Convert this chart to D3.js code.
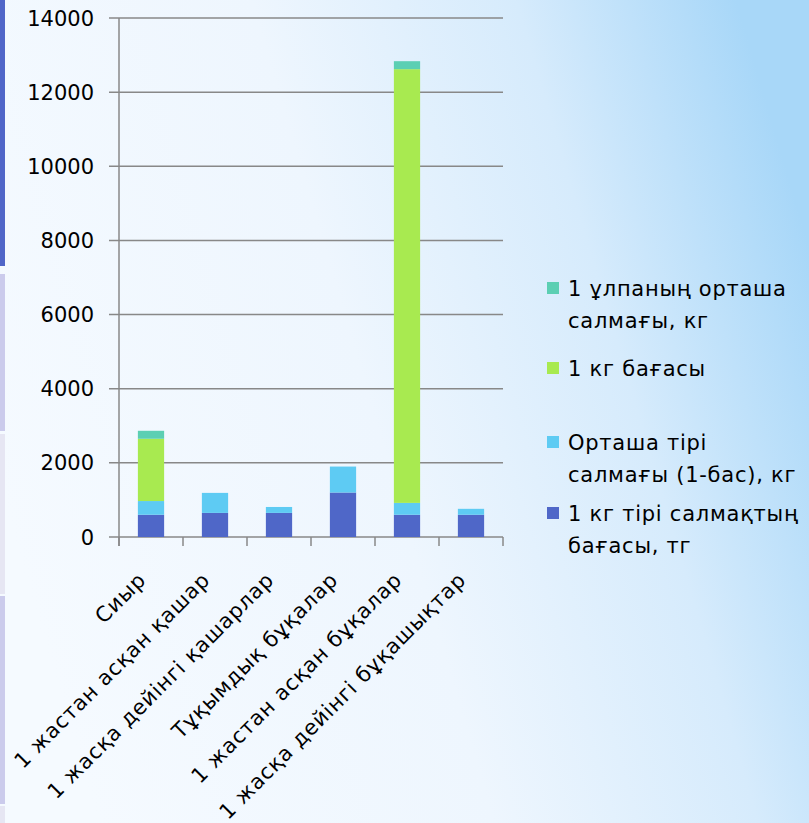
<!DOCTYPE html>
<html>
<head>
<meta charset="utf-8">
<script src="https://cdn.jsdelivr.net/npm/d3@7"></script>
<style>
	body { margin: 0; padding: 0; overflow: hidden; }
	text { font-family: "DejaVu Sans", sans-serif; fill: #000; }
</style>
</head>
<body>
<div id="chart"></div>
<script>
// categories and series (stacked from the bottom)
var categories = ["Сиыр", "1 жастан асқан қашар", "1 жасқа дейінгі қашарлар", "Тұқымдық бұқалар", "1 жастан асқан бұқалар", "1 жасқа дейінгі бұқашықтар"];
var pricePerKgLive = [600, 650, 650, 1200, 600, 600];
var avgLiveWeight = [370, 540, 160, 700, 320, 160];
var pricePerKg = [1680, 0, 0, 0, 11700, 0];
var fleeceWeight = [215, 0, 0, 0, 215, 0];

var seriesNames = ["1 кг тірі салмақтың бағасы, тг", "Орташа тірі салмағы (1-бас), кг", "1 кг бағасы", "1 ұлпаның орташа салмағы, кг"];
var seriesColors = ["#4f67c8", "#5ecbf3", "#a8ea50", "#5ccfb3"];
// legend text, as wrapped in the picture (top entry first)
var legendLines = [["1 ұлпаның орташа", "салмағы, кг"], ["1 кг бағасы"], ["Орташа тірі", "салмағы (1-бас), кг"], ["1 кг тірі салмақтың", "бағасы, тг"]];
var yTicks = [0, 2000, 4000, 6000, 8000, 10000, 12000, 14000];

var W = 809, H = 823;
var svg = d3.select("#chart").append("svg").attr("width", W).attr("height", H);

// background
var defs = svg.append("defs");
var grad = defs.append("linearGradient").attr("id", "bg")
	.attr("x1", 0).attr("y1", 0.6).attr("x2", 1).attr("y2", 0.3);
grad.append("stop").attr("offset", 0).attr("stop-color", "#f5faff");
grad.append("stop").attr("offset", 0.45).attr("stop-color", "#eef6fe");
grad.append("stop").attr("offset", 0.75).attr("stop-color", "#d6ebfc");
grad.append("stop").attr("offset", 1).attr("stop-color", "#a8d7f8");
svg.append("rect").attr("width", W).attr("height", H).attr("fill", "url(#bg)");

// strip on the left edge
var strip = [[0, 266, "#5066c8"], [274, 431, "#cbcbec"], [434, 594, "#e6e6f3"], [596, 804, "#cbcbec"], [806, 823, "#e6e6f3"]];
svg.selectAll("rect.strip").data(strip).enter().append("rect")
	.attr("class", "strip")
	.attr("x", 0).attr("y", function (d) { return d[0]; })
	.attr("width", 5).attr("height", function (d) { return d[1] - d[0]; })
	.attr("fill", function (d) { return d[2]; });

var x = d3.scaleBand().domain(categories).range([119, 503]).paddingInner(0.59).paddingOuter(0.295);
var y = d3.scaleLinear().domain([0, 14000]).range([537, 18]);

// gridlines
svg.selectAll("line.grid").data(yTicks).enter().append("line")
	.attr("class", "grid")
	.attr("x1", 109).attr("x2", 503)
	.attr("y1", function (d) { return y(d); }).attr("y2", function (d) { return y(d); })
	.attr("stroke", "#888").attr("stroke-width", 1.5);

// y axis
svg.append("line").attr("x1", 119).attr("x2", 119).attr("y1", y(14000)).attr("y2", 546)
	.attr("stroke", "#888").attr("stroke-width", 1.5);
svg.selectAll("text.ylab").data(yTicks).enter().append("text")
	.attr("class", "ylab")
	.attr("x", 94).attr("y", function (d) { return y(d); })
	.attr("dy", "0.36em").attr("text-anchor", "end")
	.style("font-size", "21px")
	.text(function (d) { return d; });

// category ticks
var bounds = categories.map(function (c) { return x(c) - x.step() * x.paddingInner() / 2; });
bounds.push(503);
svg.selectAll("line.xtick").data(bounds).enter().append("line")
	.attr("class", "xtick")
	.attr("x1", function (d) { return d; }).attr("x2", function (d) { return d; })
	.attr("y1", 537).attr("y2", 546)
	.attr("stroke", "#888").attr("stroke-width", 1.5);

// stacked bars
var rows = categories.map(function (c, i) {
	return {cat: c, s0: pricePerKgLive[i], s1: avgLiveWeight[i], s2: pricePerKg[i], s3: fleeceWeight[i]};
});
var stack = d3.stack().keys(["s0", "s1", "s2", "s3"])(rows);
stack.forEach(function (layer, k) {
	svg.selectAll("rect.s" + k).data(layer).enter().append("rect")
		.attr("class", "s" + k)
		.attr("x", function (d) { return x(d.data.cat); })
		.attr("width", x.bandwidth())
		.attr("y", function (d) { return y(d[1]); })
		.attr("height", function (d) { return y(d[0]) - y(d[1]); })
		.attr("fill", seriesColors[k]);
});

// category labels
svg.selectAll("text.xlab").data(categories).enter().append("text")
	.attr("class", "xlab")
	.attr("transform", function (d) {
		return "translate(" + (x(d) + x.bandwidth() / 2 - 9) + ",576) rotate(-45)";
	})
	.attr("text-anchor", "end").attr("dy", "0.35em")
	.style("font-size", "21px").style("letter-spacing", "0.8px")
	.text(function (d) { return d; });

// legend
var legendY = [288, 368, 442, 513];
var legendColors = [seriesColors[3], seriesColors[2], seriesColors[1], seriesColors[0]];
legendLines.forEach(function (lines, i) {
	svg.append("rect").attr("x", 547).attr("y", legendY[i] - 6).attr("width", 12).attr("height", 12)
		.attr("fill", legendColors[i]);
	var t = svg.append("text").attr("x", 568).attr("y", legendY[i])
		.style("font-size", "21px").style("letter-spacing", "0.75px");
	lines.forEach(function (l, j) {
		t.append("tspan").attr("x", 568).attr("dy", j == 0 ? "0.36em" : "32px").text(l);
	});
});
</script>
</body>
</html>
